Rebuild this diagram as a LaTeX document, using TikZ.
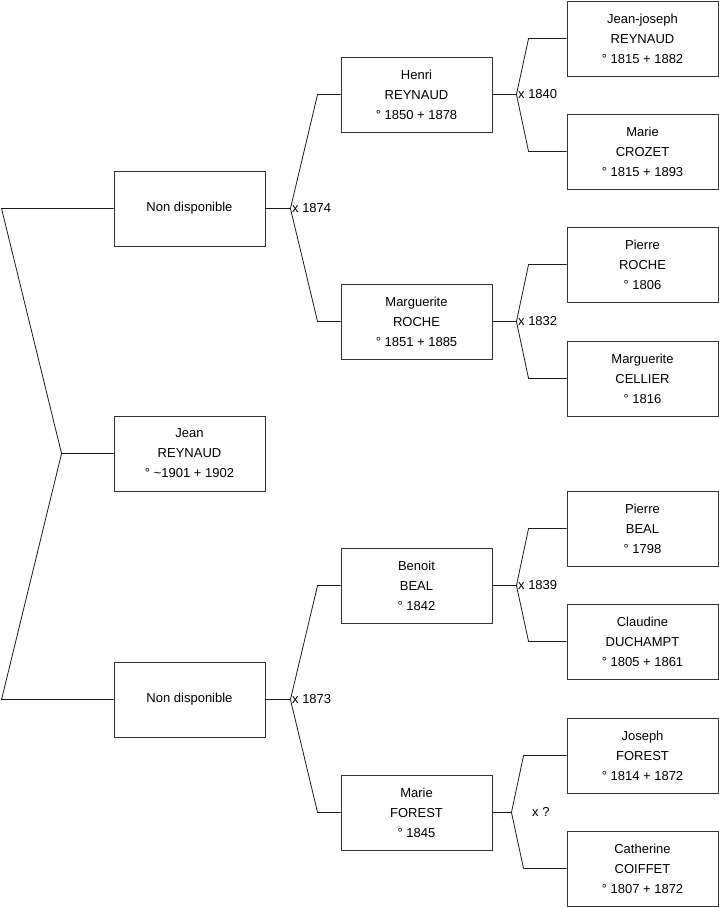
\documentclass[tikz,border=0pt]{standalone}
\usepackage{fontspec}
\setmainfont{Liberation Sans}
\usetikzlibrary{calc}
\definecolor{linegray}{HTML}{1A1A1A}
\definecolor{boxgray}{HTML}{333333}

\tikzset{
  person/.style={draw=boxgray, line width=0.9pt, minimum width=151pt, minimum height=75pt,
                 inner sep=0pt, align=center, font=\fontsize{13}{20}\selectfont},
  branch/.style={linegray, line width=0.8pt},
  wedlock/.style={anchor=west, inner sep=1.5pt, font=\fontsize{13}{14}\selectfont}
}

\begin{document}
\begin{tikzpicture}[x=1pt, y=-1pt]

\useasboundingbox (0,0) rectangle (719,908);

% Generation 1 and 2
\node[person] (nd1)  at (189.5,208.5) {Non disponible};
\node[person] (jean) at (189.5,453.5) {Jean\\REYNAUD\\° \textasciitilde1901 + 1902};
\node[person] (nd2)  at (189.5,699.5) {Non disponible};

% Generation 3
\node[person] (henri)    at (416.5,94.5)  {Henri\\REYNAUD\\° 1850 + 1878};
\node[person] (margroch) at (416.5,321.5) {Marguerite\\ROCHE\\° 1851 + 1885};
\node[person] (benoit)   at (416.5,585.5) {Benoit\\BEAL\\° 1842};
\node[person] (marief)   at (416.5,812.5) {Marie\\FOREST\\° 1845};

% Generation 4
\node[person] (jeanjo)   at (642.5,38.5)  {Jean-joseph\\REYNAUD\\° 1815 + 1882};
\node[person] (mariec)   at (642.5,151.5) {Marie\\CROZET\\° 1815 + 1893};
\node[person] (pierrer)  at (642.5,264.5) {Pierre\\ROCHE\\° 1806};
\node[person] (margcel)  at (642.5,378.5) {Marguerite\\CELLIER\\° 1816};
\node[person] (pierreb)  at (642.5,528.5) {Pierre\\BEAL\\° 1798};
\node[person] (claudine) at (642.5,641.5) {Claudine\\DUCHAMPT\\° 1805 + 1861};
\node[person] (joseph)   at (642.5,755.5) {Joseph\\FOREST\\° 1814 + 1872};
\node[person] (cath)     at (642.5,868.5) {Catherine\\COIFFET\\° 1807 + 1872};

% Root to parents
\draw[branch] (jean.west) -- ++(-52,0) coordinate (f0)
  -- ($(nd1.west)+(-112,0)$) -- (nd1.west);
\draw[branch] (f0) -- ($(nd2.west)+(-112,0)$) -- (nd2.west);

% Parents to grandparents
\draw[branch] (nd1.east) -- ++(25,0) coordinate (f1)
  -- ($(henri.west)+(-23,0)$) -- (henri.west);
\draw[branch] (f1) -- ($(margroch.west)+(-23,0)$) -- (margroch.west);
\node[wedlock] (w1) at (f1) {x 1874};

\draw[branch] (nd2.east) -- ++(25,0) coordinate (f2)
  -- ($(benoit.west)+(-23,0)$) -- (benoit.west);
\draw[branch] (f2) -- ($(marief.west)+(-23,0)$) -- (marief.west);
\node[wedlock] (w2) at (f2) {x 1873};

% Grandparents to great-grandparents
\draw[branch] (henri.east) -- ++(24,0) coordinate (f3)
  -- ($(jeanjo.west)+(-38,0)$) -- (jeanjo.west);
\draw[branch] (f3) -- ($(mariec.west)+(-38,0)$) -- (mariec.west);
\node[wedlock] (w3) at (f3) {x 1840};

\draw[branch] (margroch.east) -- ++(24,0) coordinate (f4)
  -- ($(pierrer.west)+(-38,0)$) -- (pierrer.west);
\draw[branch] (f4) -- ($(margcel.west)+(-38,0)$) -- (margcel.west);
\node[wedlock] (w4) at (f4) {x 1832};

\draw[branch] (benoit.east) -- ++(24,0) coordinate (f5)
  -- ($(pierreb.west)+(-38,0)$) -- (pierreb.west);
\draw[branch] (f5) -- ($(claudine.west)+(-38,0)$) -- (claudine.west);
\node[wedlock] (w5) at (f5) {x 1839};

\draw[branch] (marief.east) -- ++(19,0) coordinate (f6)
  -- ($(joseph.west)+(-43,0)$) -- (joseph.west);
\draw[branch] (f6) -- ($(cath.west)+(-43,0)$) -- (cath.west);
\node[wedlock] (w6) at ($(f6)+(19,-1)$) {x ?};

\end{tikzpicture}
\end{document}
